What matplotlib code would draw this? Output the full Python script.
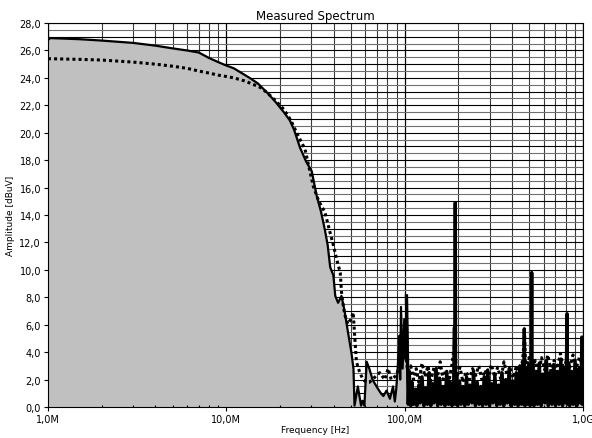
import numpy as np
import matplotlib
matplotlib.use("Agg")
import matplotlib.pyplot as plt
from matplotlib.ticker import FixedLocator, FuncFormatter

# measured spectrum (solid) - frequency in MHz, amplitude in dBuV
meas_freq = [1.0, 1.03, 1.5, 2.0, 3.0, 4.0, 5.0, 6.0, 7.0, 8.0, 9.0, 10.0, 11.0, 12.0, 13.5,
             15.0, 17.0, 19.0, 21.0, 22.7, 24.0, 25.9, 28.0, 30.1, 32.1, 34.0, 35.7, 37.0,
             38.2, 39.8, 40.8, 42.3, 44.2, 46.0, 48.0, 50.2, 51.6, 52.3, 54.6, 56.9, 58.0,
             59.4, 61.2, 63.3, 66.0, 68.0, 71.0, 73.5, 75.9, 79.1, 82.6, 86.0, 88.0, 89.6,
             91.5, 93.4, 94.3, 95.3, 97.3, 99.4, 100.8, 102.3, 104.6,
             106, 108, 110, 112, 115, 117, 120, 122, 125, 128, 131, 134, 137, 140, 143, 146,
             150, 153, 157, 160, 164, 168, 172, 176, 180, 184, 188, 190, 191, 192, 193, 194,
             198, 203, 207, 212, 217, 222, 227, 232, 238, 243, 249, 255, 261, 267, 273, 279,
             286, 292, 299, 306, 313, 320, 328, 335, 343, 351, 359, 368, 376, 385, 394, 403,
             413, 422, 432, 442, 452, 460, 465, 468, 472, 478, 485, 496, 505, 513, 515, 517,
             522, 530, 543, 555, 568, 582, 595, 609, 623, 638, 653, 668, 684, 700, 716, 733,
             750, 767, 785, 800, 808, 813, 818, 830, 841, 861, 881, 901, 922, 944, 966, 980,
             984, 990, 1000]
meas_amp = [26.75, 26.9, 26.82, 26.72, 26.55, 26.35, 26.15, 26.0, 25.85, 25.45, 25.15, 24.9,
            24.7, 24.4, 24.0, 23.6, 22.9, 22.2, 21.5, 20.9, 20.2, 18.9, 17.9, 17.2, 15.4,
            14.2, 12.9, 11.8, 10.2, 9.6, 8.1, 7.6, 8.1, 7.0, 5.5, 4.0, 2.8, 0.1, 1.5, 0.1,
            0.45, 0.1, 3.3, 2.8, 2.0, 1.7, 1.3, 1.0, 0.8, 1.2, 0.6, 1.5, 0.4, 1.3,
            3.0, 5.2, 2.0, 7.3, 2.8, 6.4, 3.5, 8.1, 0.2,
            2.6, 0.1, 1.8, 0.2, 1.3, 0.1, 1.6, 0.3, 2.2, 0.1, 1.4, 0.2, 2.5, 0.1, 1.7, 0.3,
            2.8, 0.1, 2.1, 0.2, 1.5, 0.1, 2.6, 0.2, 1.8, 0.1, 1.6, 5.8, 0.2, 14.9, 0.3, 2.4,
            0.1, 1.9, 0.2, 1.5, 0.1, 2.2, 0.2, 1.6, 0.3, 2.6, 0.1, 1.8, 0.2, 1.5, 0.1, 2.2,
            0.2, 2.7, 0.1, 1.7, 0.3, 2.3, 0.1, 1.6, 0.2, 2.5, 0.1, 2.0, 0.3, 2.8, 0.1, 1.9,
            0.2, 2.5, 0.1, 3.0, 0.2, 3.3, 0.3, 5.7, 0.1, 2.6, 0.2, 3.1, 0.1, 2.2, 9.8, 0.2,
            3.4, 0.1, 2.6, 0.2, 3.2, 0.1, 2.4, 0.3, 3.4, 0.1, 2.5, 0.2, 3.1, 0.1, 2.6, 0.2,
            3.5, 0.1, 2.7, 0.3, 4.2, 6.8, 0.2, 3.2, 0.1, 2.6, 0.2, 3.4, 0.1, 2.8, 0.3, 3.6,
            5.1, 0.2, 2.3]

# reference spectrum (dotted)
ref_freq = [1.0, 1.5, 2.0, 3.0, 4.0, 5.0, 6.0, 7.0, 8.0, 9.0, 10.0, 11.0, 12.5, 14.0, 15.5,
            17.0, 19.0, 21.0, 23.0, 25.0, 27.6, 30.7, 33.0, 35.7, 38.0, 39.8, 41.5, 43.5,
            44.2, 45.2, 46.2, 48.0, 50.0, 51.4, 52.4, 53.6, 56.0, 58.5, 61.0, 63.3, 66.0,
            69.4, 72.4, 77.3, 80.7, 84.0, 89.6, 95.3, 101.0, 104.0, 108.0,
            112, 116, 120, 125, 130, 135, 140, 146, 152, 158, 164, 170, 177, 184, 190, 196,
            204, 212, 221, 230, 240, 250, 260, 271, 282, 294, 306, 319, 332, 346, 360, 375,
            390, 406, 423, 440, 458, 470, 477, 497, 518, 539, 562, 585, 609, 634, 661, 688,
            717, 746, 777, 810, 843, 878, 914, 952, 1000]
ref_amp = [25.4, 25.35, 25.3, 25.15, 25.0, 24.85, 24.7, 24.5, 24.35, 24.2, 24.1, 24.0, 23.8,
           23.55, 23.3, 22.9, 22.3, 21.7, 20.9, 19.9, 18.8, 16.1, 15.0, 14.2, 12.8, 11.8,
           10.8, 9.8, 8.4, 7.4, 6.7, 6.05, 6.4, 6.9, 5.2, 3.3, 2.5, 2.0, 1.8, 1.8, 2.0,
           2.3, 2.5, 2.0, 2.8, 2.0, 2.3, 3.3, 3.8, 2.6, 3.0,
           2.0, 2.8, 1.8, 3.2, 2.2, 3.0, 1.9, 2.9, 2.1, 3.3, 2.0, 2.7, 1.9, 3.1, 4.5, 2.2,
           2.9, 1.8, 2.6, 2.0, 2.8, 2.3, 3.0, 2.0, 2.7, 2.1, 3.1, 2.2, 2.9, 2.0, 3.3, 2.3,
           2.8, 2.1, 3.0, 2.4, 3.4, 5.3, 2.6, 3.6, 2.8, 3.4, 2.5, 3.6, 2.7, 3.8, 2.6, 3.4,
           2.8, 3.9, 2.7, 3.5, 2.9, 3.8, 2.8, 3.6, 3.0]

y_ticks = [0, 2, 4, 6, 8, 10, 12, 14, 16, 18, 20, 22, 24, 26, 28]
x_major = [1e6, 1e7, 1e8, 1e9]
x_labels = ["1,0M", "10,0M", "100,0M", "1,0G"]

f_meas = np.array(meas_freq) * 1e6
a_meas = np.array(meas_amp)
f_ref = np.array(ref_freq) * 1e6

fig = plt.figure(figsize=(5.92, 4.39), dpi=100)
ax = fig.add_axes([0.081, 0.0706, 0.904, 0.8747])

ax.set_xscale("log")
ax.set_xlim(1e6, 1e9)
ax.set_ylim(0, 28)

# grid: vertical log lines and horizontal lines every 0.5 dB
minor_x = [m * 10 ** e for e in (6, 7, 8) for m in range(2, 10)]
for x in minor_x:
    ax.axvline(x, color="#3c3c3c", lw=0.8, zorder=0)
for x in x_major:
    ax.axvline(x, color="black", lw=0.9, zorder=0)
for i, y in enumerate(np.arange(0, 28.01, 0.5)):
    ax.axhline(y, color="black" if i % 2 == 0 else "#707070", lw=0.8, zorder=0)

ax.fill_between(f_meas, 0, a_meas, color="#c0c0c0", lw=0, zorder=1)
ax.plot(f_ref, ref_amp, color="black", lw=2.2, ls=(0, (1, 1)), zorder=2)
ax.plot(f_meas, a_meas, color="black", lw=1.6, zorder=3)
# dense sweep above 100 MHz renders as a nearly solid black band
hf = f_meas >= 102e6
ax.plot(f_meas[hf], a_meas[hf], color="black", lw=2.4, zorder=3)

ax.xaxis.set_major_locator(FixedLocator(x_major))
ax.xaxis.set_major_formatter(FuncFormatter(lambda v, p: x_labels[x_major.index(v)] if v in x_major else ""))
ax.xaxis.set_minor_locator(FixedLocator(minor_x))
ax.xaxis.set_minor_formatter(FuncFormatter(lambda v, p: ""))
ax.set_yticks(y_ticks)
ax.yaxis.set_major_formatter(FuncFormatter(lambda v, p: ("%.1f" % v).replace(".", ",")))

ax.tick_params(axis="both", which="major", direction="out", length=3, width=0.8, labelsize=7, pad=2)
ax.tick_params(axis="x", which="minor", direction="in", length=1.5, width=0.8)
for s in ax.spines.values():
    s.set_linewidth(0.8)
    s.set_color("black")

ax.set_title("Measured Spectrum", fontsize=8.5, pad=3)
ax.set_xlabel("Frequency [Hz]", fontsize=6.5, labelpad=1)
ax.set_ylabel("Amplitude [dBuV]", fontsize=6.5, labelpad=3)

fig.savefig("out.png", dpi=100)
